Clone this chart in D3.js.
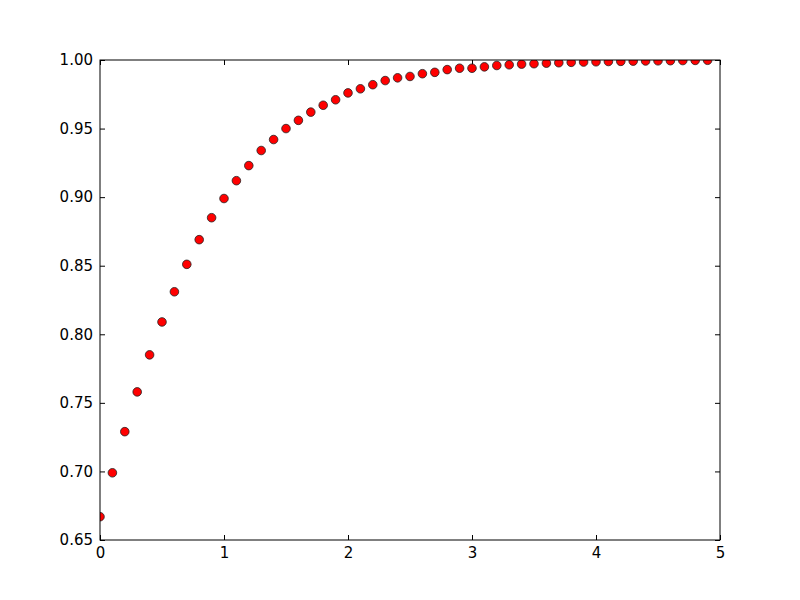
<!DOCTYPE html>
<html lang="en">
<head>
<meta charset="UTF-8">
<title>Scatter</title>
<style>
    body { margin: 0; background: white; }
    svg { display: block; }
    .tick text { font-family: 'DejaVu Sans', sans-serif; font-size: 15px; fill: black; }
</style>
</head>
<body>
<div id="chart"></div>
<script src="https://d3js.org/d3.v7.min.js"></script>
<script>
    // x positions and the values
    const xs = [0.0, 0.1, 0.2, 0.3, 0.4, 0.5, 0.6, 0.7, 0.8, 0.9,
                1.0, 1.1, 1.2, 1.3, 1.4, 1.5, 1.6, 1.7, 1.8, 1.9,
                2.0, 2.1, 2.2, 2.3, 2.4, 2.5, 2.6, 2.7, 2.8, 2.9,
                3.0, 3.1, 3.2, 3.3, 3.4, 3.5, 3.6, 3.7, 3.8, 3.9,
                4.0, 4.1, 4.2, 4.3, 4.4, 4.5, 4.6, 4.7, 4.8, 4.9];
    const ys = [0.667, 0.699, 0.729, 0.758, 0.785, 0.809, 0.831, 0.851, 0.869, 0.885,
                0.899, 0.912, 0.923, 0.934, 0.942, 0.950, 0.956, 0.962, 0.967, 0.971,
                0.976, 0.979, 0.982, 0.985, 0.987, 0.988, 0.990, 0.991, 0.993, 0.994,
                0.994, 0.995, 0.996, 0.9965, 0.997, 0.9973, 0.9977, 0.998, 0.9983, 0.9985,
                0.9987, 0.9989, 0.999, 0.9992, 0.9993, 0.9994, 0.9995, 0.9996, 0.9997, 0.9998];
    const xTicks = [0, 1, 2, 3, 4, 5];
    const yTicks = [0.65, 0.70, 0.75, 0.80, 0.85, 0.90, 0.95, 1.00];

    const width = 800, height = 600;
    const margin = {top: 60, right: 80, bottom: 60, left: 100};
    const iw = width - margin.left - margin.right;
    const ih = height - margin.top - margin.bottom;

    const svg = d3.select("#chart").append("svg")
        .attr("width", width)
        .attr("height", height);

    // markers get cut at the frame, like matplotlib does
    svg.append("defs").append("clipPath").attr("id", "plot-clip")
        .append("rect").attr("width", iw).attr("height", ih);

    const g = svg.append("g").attr("transform", `translate(${margin.left},${margin.top})`);

    const x = d3.scaleLinear().domain([0, 5]).range([0, iw]);
    const y = d3.scaleLinear().domain([0.65, 1.0]).range([ih, 0]);

    const fmtY = d3.format(".2f");
    const tl = 5;

    // axes: ticks point inward, labels only on bottom/left
    g.append("g").attr("transform", `translate(0,${ih})`)
        .call(d3.axisBottom(x).tickValues(xTicks).tickSize(-tl).tickPadding(7).tickFormat(d3.format("d")));
    g.append("g")
        .call(d3.axisTop(x).tickValues(xTicks).tickSize(-tl).tickFormat(""));
    g.append("g")
        .call(d3.axisLeft(y).tickValues(yTicks).tickSize(-tl).tickPadding(7).tickFormat(fmtY));
    g.append("g").attr("transform", `translate(${iw},0)`)
        .call(d3.axisRight(y).tickValues(yTicks).tickSize(-tl).tickFormat(""));

    g.selectAll(".domain").remove();
    g.selectAll(".tick line").attr("stroke", "black");

    g.append("g").attr("clip-path", "url(#plot-clip)")
        .selectAll("circle")
        .data(xs)
        .enter().append("circle")
        .attr("cx", d => x(d))
        .attr("cy", (d, i) => y(ys[i]))
        .attr("r", 4.3)
        .attr("fill", "red")
        .attr("stroke", "#222")
        .attr("stroke-width", 0.8);

    // frame drawn on top
    g.append("rect")
        .attr("width", iw).attr("height", ih)
        .attr("fill", "none").attr("stroke", "black").attr("stroke-width", 1);
</script>
</body>
</html>
